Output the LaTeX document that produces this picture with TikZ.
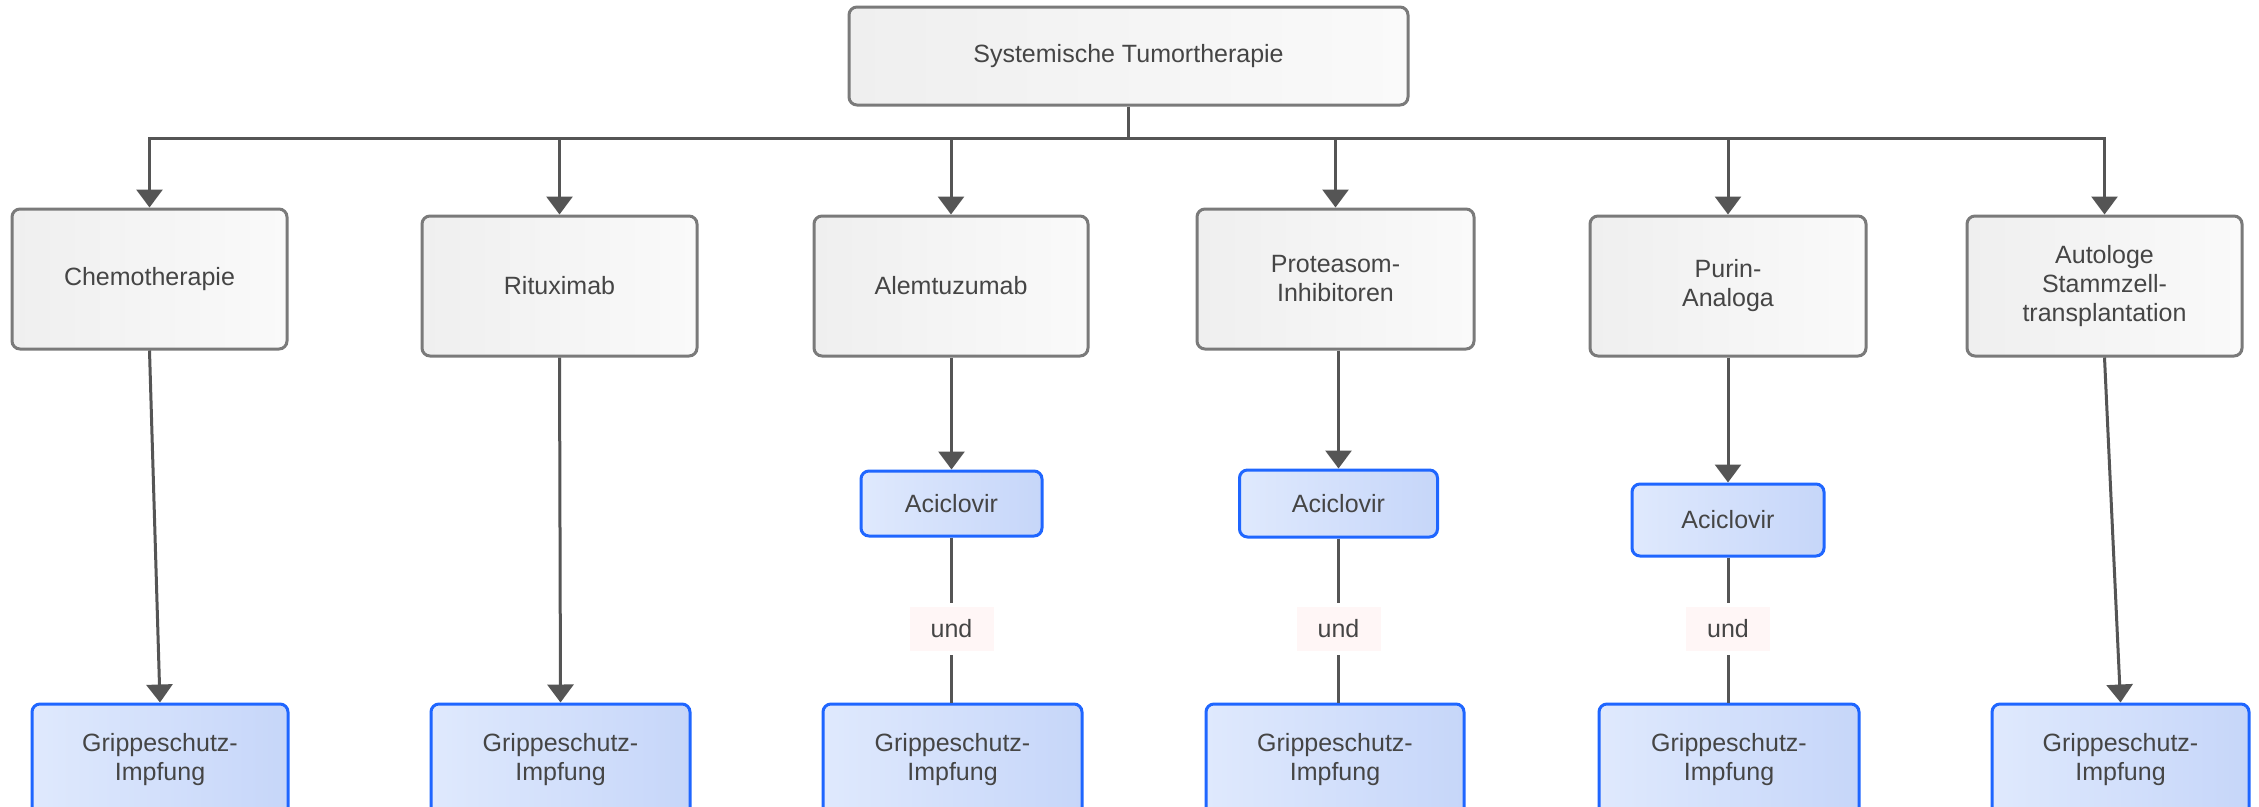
\documentclass[tikz,border=0pt]{standalone}
\usepackage{fontspec}
\setmainfont{Liberation Sans}
\usetikzlibrary{arrows.meta}
\definecolor{txt}{HTML}{454545}
\definecolor{grayborder}{HTML}{7A7A7A}
\definecolor{grayA}{HTML}{EFEFEF}
\definecolor{grayB}{HTML}{FAFAFA}
\definecolor{blueborder}{HTML}{1F66FF}
\definecolor{blueA}{HTML}{DFE9FD}
\definecolor{blueB}{HTML}{C6D6F9}
\definecolor{conn}{HTML}{555555}
\definecolor{undfill}{HTML}{FFF6F6}
\tikzset{
  base/.style={rounded corners=8pt, line width=3pt, inner sep=0pt, align=center,
    text=txt, font=\fontsize{25}{29}\selectfont},
  graybox/.style={base, draw=grayborder, left color=grayA, right color=grayB,
    minimum width=275pt, minimum height=140pt},
  bluebox/.style={base, draw=blueborder, left color=blueA, right color=blueB},
  lbl/.style={fill=undfill, inner sep=0pt, minimum width=84pt, minimum height=44pt,
    text=txt, font=\fontsize{25}{29}\selectfont},
  conline/.style={draw=conn, line width=3pt},
  arr/.style={conline, -{Triangle[width=26pt,length=18pt]}}
}
\begin{document}
\begin{tikzpicture}[x=1pt,y=-1pt]
\useasboundingbox (0,0) rectangle (2259,806);
\fill[white] (0,0) rectangle (2259,806);

\node[graybox, minimum width=559pt, minimum height=98pt] (top) at (1128.5,56) {Systemische Tumortherapie};

\node[graybox] (chemo) at (149.5,279) {Chemotherapie};
\node[graybox] (ritux) at (559.5,286) {Rituximab};
\node[graybox, minimum width=274pt] (alem) at (951,286) {Alemtuzumab};
\node[graybox, minimum width=277pt] (prot) at (1335.5,279) {Proteasom-\\Inhibitoren};
\node[graybox, minimum width=276pt] (purin) at (1728,286) {Purin-\\Analoga};
\node[graybox] (auto) at (2104.5,286) {Autologe\\Stammzell-\\transplantation};

\node[bluebox, minimum width=181pt, minimum height=65pt] (ac1) at (951.5,503.5) {Aciclovir};
\node[bluebox, minimum width=198pt, minimum height=67pt] (ac2) at (1338.5,503.5) {Aciclovir};
\node[bluebox, minimum width=192pt, minimum height=72pt] (ac3) at (1728,520) {Aciclovir};

\node[lbl] (und1) at (951.5,629) {und};
\node[lbl] (und2) at (1338.5,629) {und};
\node[lbl] (und3) at (1728,629) {und};

\node[bluebox, minimum width=256pt, minimum height=112pt] (g1) at (160,760) {Grippeschutz-\\Impfung};
\node[bluebox, minimum width=259pt, minimum height=112pt] (g2) at (560.5,760) {Grippeschutz-\\Impfung};
\node[bluebox, minimum width=259pt, minimum height=112pt] (g3) at (952.5,760) {Grippeschutz-\\Impfung};
\node[bluebox, minimum width=258pt, minimum height=112pt] (g4) at (1335,760) {Grippeschutz-\\Impfung};
\node[bluebox, minimum width=260pt, minimum height=112pt] (g5) at (1729,760) {Grippeschutz-\\Impfung};
\node[bluebox, minimum width=257pt, minimum height=112pt] (g6) at (2120.5,760) {Grippeschutz-\\Impfung};

\coordinate (bus) at (1128.5,138);
\draw[conline] (top.south) -- (bus);
\foreach \n in {chemo,ritux,alem,prot,purin,auto}{
  \draw[arr] (bus) -| (\n.north);
}

\draw[arr] (chemo.south) -- (g1.north);
\draw[arr] (ritux.south) -- (g2.north);
\draw[arr] (auto.south) -- (g6.north);

\draw[arr] (ac1.north |- alem.south) -- (ac1.north);
\draw[arr] (ac2.north |- prot.south) -- (ac2.north);
\draw[arr] (purin.south) -- (ac3.north);

\draw[conline, shorten >=4pt] (ac1.south) -- (und1.north);
\draw[conline, shorten >=4pt] (ac2.south) -- (und2.north);
\draw[conline, shorten >=4pt] (ac3.south) -- (und3.north);
\draw[conline, shorten <=4pt] (und1.south) -- (und1.south |- g3.north);
\draw[conline, shorten <=4pt] (und2.south) -- (und2.south |- g4.north);
\draw[conline, shorten <=4pt] (und3.south) -- (und3.south |- g5.north);
\end{tikzpicture}
\end{document}
